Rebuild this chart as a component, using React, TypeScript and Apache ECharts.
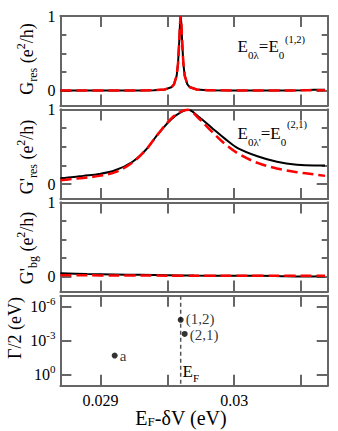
import { useEffect, useRef } from 'react';
import * as echarts from 'echarts';

const FONT = 'Liberation Serif';
const FRAME = '#666666';
const RED = '#ff0000';

// ---- axes / ticks ----
const xRange = [0.0287, 0.0307];
const xTickValues = [0.029, 0.0295, 0.03, 0.0305];
const xLabelValues = [0.029, 0.03];
const gRange = [-0.2, 1];
const gMajorTicks = [0, 1];
const gMinorTicks = [0.25, 0.5, 0.75];
const logRange = [-7, 1]; // exponents of Γ/2 (eV)
const logTickExps = [-6, -3, 0];

// ---- panel 1: G_res ----
const p1Energy = [0.0287, 0.0289, 0.0291, 0.0293, 0.0294, 0.02948, 0.02953, 0.02955, 0.02957, 0.02958, 0.02959, 0.029595, 0.0296, 0.029605, 0.02961, 0.02962, 0.02963, 0.02965, 0.02967, 0.02972, 0.0298, 0.03, 0.0302, 0.0304, 0.0305, 0.0306, 0.03068];
const p1Black = [0, 0, 0.001, 0.002, 0.005, 0.015, 0.044, 0.083, 0.2, 0.36, 0.69, 0.9, 1.0, 0.9, 0.69, 0.36, 0.2, 0.083, 0.044, 0.015, 0.005, 0.002, 0.001, 0.002, 0.006, 0.012, 0.01];
const p1Red = [0, 0, 0.001, 0.002, 0.005, 0.015, 0.044, 0.083, 0.2, 0.36, 0.69, 0.9, 1.0, 0.9, 0.69, 0.36, 0.2, 0.083, 0.044, 0.015, 0.005, 0.002, 0.001, 0.001, 0.003, 0.005, 0.005];

// ---- panel 2: G'_res ----
const p2Energy = [0.0287, 0.0288, 0.02887, 0.02899, 0.02911, 0.02924, 0.02934, 0.02943, 0.02953, 0.0296, 0.029655, 0.02973, 0.02983, 0.02993, 0.03003, 0.03018, 0.03032, 0.03047, 0.0306, 0.03068];
const p2Black = [0.078, 0.095, 0.11, 0.135, 0.185, 0.3, 0.46, 0.67, 0.87, 0.96, 0.995, 0.91, 0.76, 0.61, 0.48, 0.37, 0.3, 0.26, 0.25, 0.25];
const p2Red = [0.052, 0.07, 0.083, 0.11, 0.16, 0.29, 0.46, 0.67, 0.88, 0.97, 0.995, 0.89, 0.71, 0.54, 0.41, 0.28, 0.21, 0.16, 0.13, 0.11];

// ---- panel 3: G'_bg ----
const p3Energy = [0.0287, 0.0289, 0.0291, 0.0293, 0.0295, 0.0297, 0.0299, 0.0301, 0.0303, 0.0305, 0.03068];
const p3Black = [0.045, 0.035, 0.03, 0.025, 0.02, 0.015, 0.013, 0.012, 0.01, 0.003, 0.005];
const p3Red = [0.02, 0.018, 0.016, 0.015, 0.014, 0.013, 0.012, 0.012, 0.012, 0.012, 0.012];

// ---- panel 4: level widths ----
const levelNames = ['a', '(1,2)', '(2,1)'];
const levelEnergy = [0.029106, 0.0296, 0.02963];
const levelHalfWidth = [0.021, 1.4e-5, 2.5e-4];
const fermiEnergy = 0.0296;

// ---- layout ----
const GRID_LEFT = 60.4;
const GRID_WIDTH = 267.3;
const panelTops = [16, 109.5, 202.5, 295.7];
const panelHeights = [89.5, 89.5, 89, 90];

const zip = (xs: number[], ys: number[]) => xs.map((x, i) => [x, ys[i]]);

function buildOption() {
  const frameLine = { show: true, onZero: false, lineStyle: { color: FRAME, width: 2 } };
  const grid = panelTops.map((t, i) => ({ left: GRID_LEFT, top: t, width: GRID_WIDTH, height: panelHeights[i] }));

  const xAxis: any[] = [];
  for (let i = 0; i < 4; i++) {
    for (const pos of ['bottom', 'top']) {
      xAxis.push({
        type: 'value', gridIndex: i, position: pos, min: xRange[0], max: xRange[1],
        axisLine: frameLine,
        axisTick: { show: true, inside: true, length: 11, customValues: xTickValues, lineStyle: { color: FRAME, width: 2 } },
        axisLabel: {
          show: i === 3 && pos === 'bottom', customValues: xLabelValues,
          formatter: (v: number) => String(v), color: '#000', fontSize: 16, lineHeight: 16, fontFamily: FONT, margin: 7,
        },
        splitLine: { show: false },
      });
    }
  }

  const yAxis: any[] = [];
  const dataY: number[] = [];
  const gAxis = (gridIndex: number, position: string, ticks: number[], len: number, labels: boolean) => ({
    type: 'value', gridIndex, position, min: gRange[0], max: gRange[1],
    axisLine: frameLine,
    axisTick: { show: true, inside: true, length: len, customValues: ticks, lineStyle: { color: FRAME, width: 2 } },
    axisLabel: {
      show: labels, customValues: gMajorTicks, showMinLabel: true, showMaxLabel: true,
      formatter: (v: number) => String(v), color: '#000', fontSize: 16, fontFamily: FONT, margin: 5,
    },
    splitLine: { show: false },
  });
  for (let i = 0; i < 3; i++) {
    dataY.push(yAxis.length);
    for (const pos of ['left', 'right']) {
      yAxis.push(gAxis(i, pos, gMajorTicks, 11, pos === 'left'));
      yAxis.push(gAxis(i, pos, gMinorTicks, 6, false));
    }
  }
  dataY.push(yAxis.length);
  for (const pos of ['left', 'right']) {
    yAxis.push({
      type: 'value', gridIndex: 3, position: pos, min: logRange[0], max: logRange[1], inverse: true,
      axisLine: frameLine,
      axisTick: { show: true, inside: true, length: 11, customValues: logTickExps, lineStyle: { color: FRAME, width: 2 } },
      axisLabel: {
        show: pos === 'left', customValues: logTickExps, margin: 5,
        formatter: (v: number) => `{b|10}{s|${v}}`,
        rich: {
          b: { fontSize: 16, fontFamily: FONT, color: '#000', lineHeight: 22 },
          s: { fontSize: 11, fontFamily: FONT, color: '#000', lineHeight: 10, verticalAlign: 'top' },
        },
      },
      splitLine: { show: false },
    });
  }

  const blackLine = (idx: number, xs: number[], ys: number[], smooth: any) => ({
    type: 'line', xAxisIndex: 2 * idx, yAxisIndex: dataY[idx], data: zip(xs, ys),
    showSymbol: false, smooth, z: 2, lineStyle: { color: '#000', width: 2 },
  });
  const redLine = (idx: number, xs: number[], ys: number[], smooth: any) => ({
    type: 'line', xAxisIndex: 2 * idx, yAxisIndex: dataY[idx], data: zip(xs, ys),
    showSymbol: false, smooth, z: 3, lineStyle: { color: RED, width: 2.5, type: [11, 5] },
  });

  const series: any[] = [
    blackLine(0, p1Energy, p1Black, false),
    redLine(0, p1Energy, p1Red, false),
    blackLine(1, p2Energy, p2Black, 0.35),
    redLine(1, p2Energy, p2Red, 0.35),
    blackLine(2, p3Energy, p3Black, 0.3),
    redLine(2, p3Energy, p3Red, 0.3),
    {
      type: 'line', xAxisIndex: 6, yAxisIndex: dataY[3],
      data: [[fermiEnergy, logRange[0]], [fermiEnergy, logRange[1]]],
      showSymbol: false, z: 1, silent: true,
      lineStyle: { color: '#555', width: 1.5, type: [4, 3] },
    },
    {
      type: 'scatter', xAxisIndex: 6, yAxisIndex: dataY[3],
      data: levelEnergy.map((e, k) => ({
        value: [e, Math.log10(levelHalfWidth[k])], name: levelNames[k],
        label: { offset: [0, k === 1 ? -1 : k === 2 ? 1 : 0] },
      })),
      symbolSize: 6, itemStyle: { color: '#000' }, z: 4,
      label: { show: true, position: 'right', distance: 2, formatter: '{b}', color: '#000', fontSize: 15, lineHeight: 13, fontFamily: FONT },
    },
  ];

  const rich = {
    m: { fontSize: 18, fontFamily: FONT, fill: '#000', lineHeight: 24 },
    s: { fontSize: 12, fontFamily: FONT, fill: '#000', lineHeight: 10, verticalAlign: 'bottom' },
    p: { fontSize: 12, fontFamily: FONT, fill: '#000', lineHeight: 12, verticalAlign: 'top' },
  };
  const xRich = {
    m: { fontSize: 20, fontFamily: FONT, fill: '#000', lineHeight: 20 },
    s: { fontSize: 13, fontFamily: FONT, fill: '#000', lineHeight: 8, verticalAlign: 'bottom' },
  };
  const annRich = {
    m: { fontSize: 17, fontFamily: FONT, fill: '#000', lineHeight: 28 },
    s: { fontSize: 11, fontFamily: FONT, fill: '#000', lineHeight: 10, verticalAlign: 'bottom' },
  };
  const efRich = {
    m: { fontSize: 17, fontFamily: FONT, fill: '#000', lineHeight: 24 },
    s: { fontSize: 11, fontFamily: FONT, fill: '#000', lineHeight: 10, verticalAlign: 'bottom' },
  };
  const rotTitle = (x: number, y: number, text: string) => ({
    type: 'text', x, y, rotation: Math.PI / 2,
    style: { text, rich, align: 'center', verticalAlign: 'middle' },
  });
  const plain = (x: number, y: number, text: string, size: number) => ({
    type: 'text', x, y,
    style: { text, fontSize: size, fontFamily: FONT, fill: '#000', align: 'left', verticalAlign: 'middle' },
  });

  const graphic = [
    rotTitle(26.5, 59, '{m|G}{s|res}{m| (e}{p|2}{m|/h)}'),
    rotTitle(26.5, 157, "{m|G'}{s|res}{m| (e}{p|2}{m|/h)}"),
    rotTitle(26.5, 248, "{m|G'}{s|bg}{m| (e}{p|2}{m|/h)}"),
    rotTitle(15, 328, '{m|Γ/2 (eV)}'),
    { type: 'text', x: 181, y: 418, style: { text: '{m|E}{s|F}{m|-δV (eV)}', rich: xRich, align: 'center', verticalAlign: 'middle' } },
    { type: 'text', x: 182.5, y: 371 - 12, style: { text: '{m|E}{s|F}', rich: efRich, align: 'left', verticalAlign: 'top' } },
    { type: 'text', x: 237.6, y: 46.5 - 14, style: { text: '{m|E}{s|0λ}{m|=E}{s|0}', rich: annRich, align: 'left', verticalAlign: 'top' } },
    plain(285, 39, '(1,2)', 10.5),
    { type: 'text', x: 237.6, y: 133 - 14, style: { text: "{m|E}{s|0λ'}{m|=E}{s|0}", rich: annRich, align: 'left', verticalAlign: 'top' } },
    plain(287, 124, '(2,1)', 10.5),
  ];

  return { animation: false, grid, xAxis, yAxis, series, graphic };
}

export default function App() {
  const ref = useRef<HTMLDivElement>(null);
  useEffect(() => {
    const chart = echarts.init(ref.current!, null, { renderer: 'svg' });
    chart.setOption(buildOption() as any);
    return () => chart.dispose();
  }, []);
  return <div ref={ref} style={{ position: 'absolute', left: 0, top: 0, width: 338, height: 431, background: '#fff' }} />;
}
